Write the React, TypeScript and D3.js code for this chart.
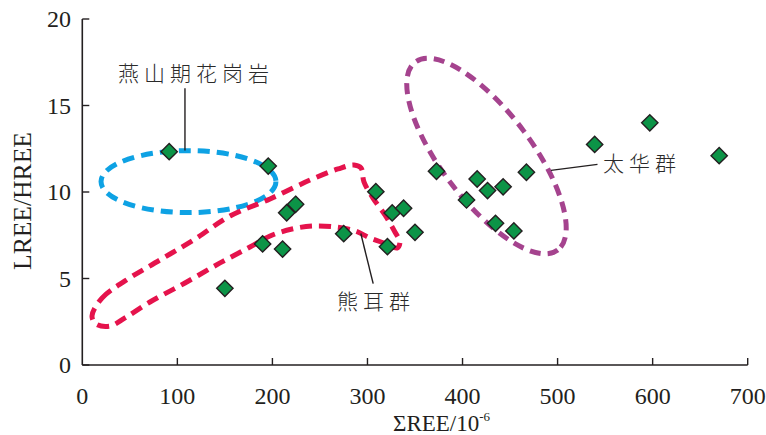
import React, { useRef, useEffect } from "react";
import * as d3 from "d3";

// sample points: ΣREE (10^-6) vs LREE/HREE
const sumREE = [91.4, 195.6, 150, 189.7, 210.7, 215, 224.4, 275, 308.8, 326, 338, 321, 350, 372.6, 404.2, 415.4, 426.3, 442.7, 434.7, 454, 467.2, 539, 597, 670];
const lhRatio = [12.33, 11.5, 4.43, 7.0, 6.7, 8.8, 9.29, 7.59, 10.02, 8.79, 9.06, 6.84, 7.67, 11.2, 9.54, 10.75, 10.08, 10.3, 8.19, 7.75, 11.14, 12.75, 14.0, 12.1];

const xTicks = [0, 100, 200, 300, 400, 500, 600, 700];
const yTicks = [0, 5, 10, 15, 20];

// 熊耳群 outline (data units)
const xiongerX = [10.2, 20.7, 44.9, 81.7, 118.6, 155.4, 197.5, 239.5, 269, 285.8, 293.2, 296.3, 305.8, 318.4, 328.9, 334.2, 331, 320.5, 302.7, 286.9, 265.8, 241.6, 220.6, 197.5, 176.4, 144.9, 108, 71.2, 44.9, 29.1, 14.4];
const xiongerY = [2.83, 3.87, 4.86, 6.07, 7.28, 8.61, 9.6, 10.69, 11.33, 11.56, 11.39, 10.58, 9.65, 8.67, 7.69, 7.11, 6.76, 6.99, 7.34, 7.75, 7.98, 8.03, 7.86, 7.46, 6.82, 5.9, 4.74, 3.64, 2.72, 2.25, 2.37];

// 燕山期花岗岩 ellipse: center and radii (data units)
const yanshanCenter = [111.7, 10.6];
const yanshanRadius = [92, 1.79];

// 太华群 ellipse: center and one end of the major axis (data units)
const taihuaCenter = [425.2, 12.08];
const taihuaEnd = [500.2, 6.65];

const labels = ["燕山期花岗岩", "熊耳群", "太华群"];

const App = () => {
  const svgRef = useRef(null);

  useEffect(() => {
    const width = 766;
    const height = 435;
    const svg = d3.select(svgRef.current).attr("width", width).attr("height", height);
    svg.selectAll("*").remove();

    const x = d3.scaleLinear().domain([0, 700]).range([82.3, 747.7]);
    const y = d3.scaleLinear().domain([0, 20]).range([365, 19]);
    const ink = "#231f20";
    const serif = "'Liberation Serif', 'DejaVu Serif', serif";
    const cjk = "'Noto Sans CJK SC', sans-serif";

    // axes
    svg.append("line").attr("x1", x(0)).attr("x2", x(0)).attr("y1", y(20)).attr("y2", y(0))
      .attr("stroke", ink).attr("stroke-width", 1.6);
    svg.append("line").attr("x1", x(0)).attr("x2", x(700)).attr("y1", y(0)).attr("y2", y(0))
      .attr("stroke", ink).attr("stroke-width", 1.6);

    svg.selectAll(".ytick").data(yTicks).join("line").attr("class", "ytick")
      .attr("x1", x(0)).attr("x2", x(0) + 7).attr("y1", (d) => y(d)).attr("y2", (d) => y(d))
      .attr("stroke", ink).attr("stroke-width", 1.4);
    svg.selectAll(".xtick").data(xTicks.slice(1)).join("line").attr("class", "xtick")
      .attr("x1", (d) => x(d)).attr("x2", (d) => x(d)).attr("y1", y(0)).attr("y2", y(0) - 7)
      .attr("stroke", ink).attr("stroke-width", 1.4);

    svg.selectAll(".ylab").data(yTicks).join("text").attr("class", "ylab")
      .attr("x", 71).attr("y", (d) => y(d)).attr("dy", "0.35em")
      .attr("text-anchor", "end").attr("font-family", serif).attr("font-size", 24).attr("fill", ink)
      .text((d) => d);
    svg.selectAll(".xlab").data(xTicks).join("text").attr("class", "xlab")
      .attr("x", (d) => x(d)).attr("y", 404)
      .attr("text-anchor", "middle").attr("font-family", serif).attr("font-size", 24).attr("fill", ink)
      .text((d) => d);

    // axis titles
    const xt = svg.append("text").attr("x", 393).attr("y", 431)
      .attr("font-family", serif).attr("font-size", 23).attr("fill", ink);
    xt.append("tspan").text("\u03A3REE/10");
    xt.append("tspan").attr("dy", -10).attr("font-size", 13).text("-6");

    svg.append("text").attr("transform", "translate(31,201) rotate(-90)")
      .attr("text-anchor", "middle").attr("font-family", serif).attr("font-size", 25).attr("fill", ink)
      .attr("textLength", 138).attr("lengthAdjust", "spacingAndGlyphs")
      .text("LREE/HREE");

    // 燕山期花岗岩 ellipse
    svg.append("ellipse")
      .attr("cx", x(yanshanCenter[0])).attr("cy", y(yanshanCenter[1]))
      .attr("rx", x(yanshanRadius[0]) - x(0)).attr("ry", y(0) - y(yanshanRadius[1]))
      .attr("fill", "none").attr("stroke", "#0ea2e4").attr("stroke-width", 5)
      .attr("stroke-dasharray", "12 7");

    // 熊耳群 outline
    const outline = xiongerX.map((d, i) => [d, xiongerY[i]]);
    svg.append("path")
      .attr("d", d3.line().x((d) => x(d[0])).y((d) => y(d[1])).curve(d3.curveCatmullRomClosed.alpha(0.5))(outline))
      .attr("fill", "none").attr("stroke", "#e5134c").attr("stroke-width", 5)
      .attr("stroke-dasharray", "12 7");

    // 太华群 ellipse
    const cx = x(taihuaCenter[0]);
    const cy = y(taihuaCenter[1]);
    const ex = x(taihuaEnd[0]) - cx;
    const ey = y(taihuaEnd[1]) - cy;
    const major = Math.hypot(ex, ey);
    const angle = (Math.atan2(ey, ex) * 180) / Math.PI;
    svg.append("ellipse")
      .attr("cx", cx).attr("cy", cy).attr("rx", major).attr("ry", major * 0.38)
      .attr("transform", `rotate(${angle},${cx},${cy})`)
      .attr("fill", "none").attr("stroke", "#a5438e").attr("stroke-width", 5)
      .attr("stroke-dasharray", "11 7");

    // callout lines
    const callouts = [
      [[108, 16.0], [108, 12.4]],
      [[293, 7.6], [306, 4.7]],
      [[493, 11.25], [542, 11.6]],
    ];
    callouts.forEach((c) => {
      svg.append("line")
        .attr("x1", x(c[0][0])).attr("y1", y(c[0][1])).attr("x2", x(c[1][0])).attr("y2", y(c[1][1]))
        .attr("stroke", ink).attr("stroke-width", 1.4);
    });

    // labels
    const labelPos = [[118, 81], [337, 309], [603, 171]];
    labels.forEach((t, i) => {
      svg.append("text").attr("x", labelPos[i][0]).attr("y", labelPos[i][1])
        .attr("font-family", cjk).attr("font-size", 21).attr("font-weight", 300)
        .attr("letter-spacing", 5).attr("fill", "#2a2a2a").text(t);
    });

    // points
    const diamond = d3.symbol().type(d3.symbolDiamond2).size(170);
    svg.selectAll(".pt").data(sumREE).join("path").attr("class", "pt")
      .attr("d", diamond)
      .attr("transform", (d, i) => `translate(${x(d)},${y(lhRatio[i])})`)
      .attr("fill", "#0c9447").attr("stroke", ink).attr("stroke-width", 1.4);
  }, []);

  return <svg ref={svgRef} style={{ position: "absolute", left: 0, top: 0, background: "#fff" }}></svg>;
};

export default App;
